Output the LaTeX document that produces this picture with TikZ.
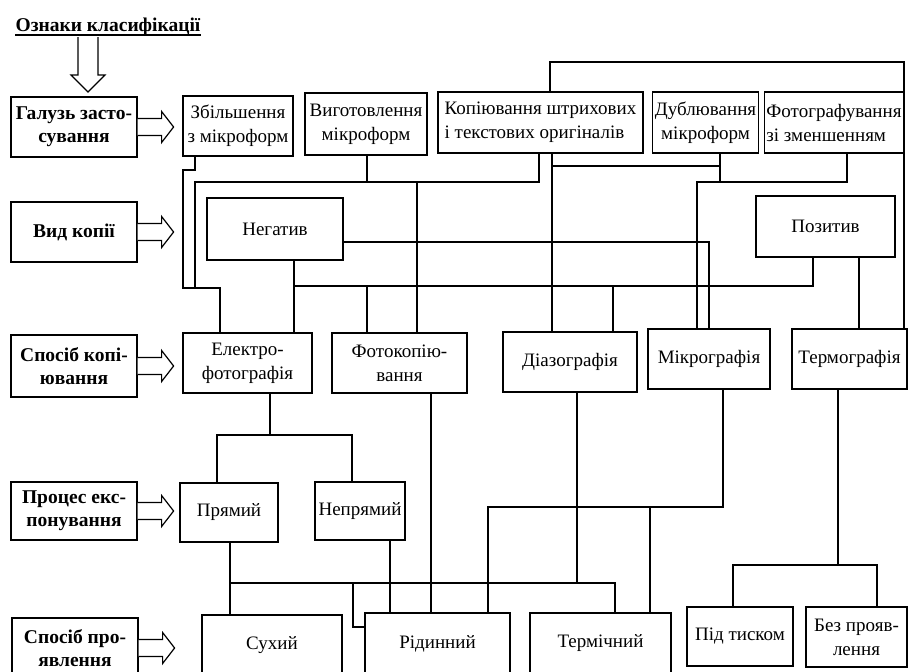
\documentclass[tikz,border=0pt]{standalone}
\usepackage{fontspec}
\setmainfont{Liberation Serif}

\begin{document}
\begin{tikzpicture}[x=1pt, y=-1pt, line width=1.2pt,
  box/.style={draw, fill=white, inner sep=2pt, align=center,
    font=\fontsize{19}{24}\selectfont},
  lbl/.style={box, minimum width=126, minimum height=60,
    font=\fontsize{19.5}{23}\selectfont\bfseries},
  hollow/.style={draw, fill=white, line join=miter}]
  \useasboundingbox (0,0) rectangle (908,672);

  % ознаки
  \node[anchor=base west, inner sep=0pt, font=\fontsize{19.5}{23}\selectfont\bfseries]
    (title) at (15,31) {Ознаки класифікації};
  \draw[line width=1.4pt] ([yshift=-4pt]title.base west) -- ([yshift=-4pt]title.base east);
  \draw[hollow] (78,37) -- (78,75) -- (71,75) -- (88,92) -- (105,75) -- (98,75) -- (98,37);

  \node[lbl] (gal) at (74,127) {Галузь засто-\\сування};
  \node[lbl] (vyd) at (74,232) {Вид копії};
  \node[lbl, minimum height=62] (spk) at (74,366) {Спосіб копі-\\ювання};
  \node[lbl, minimum height=58] (proc) at (74,511) {Процес екс-\\понування};
  \node[lbl] (spr) at (75,648) {Спосіб про-\\явлення};

  \foreach \l in {gal,vyd,spk,proc,spr}
    \draw[hollow] (\l.east) ++(0,-8.5) -- ++(24,0) -- ++(0,-7) -- ++(12,15.5)
      -- ++(-12,15.5) -- ++(0,-7) -- ++(-24,0);

  % галузь застосування
  \node[box, minimum width=110, minimum height=60] (zb) at (238,126) {Збільшення\\з мікроформ};
  \node[box, minimum width=122, minimum height=62] (vyg) at (366,124) {Виготовлення\\мікроформ};
  \node[box, minimum width=205, minimum height=61, align=left] (kop) at (540.5,122.5)
    {Копіювання штрихових\\і текстових оригіналів};
  \node[box, minimum width=105, minimum height=61] (dub) at (705.5,122.5) {Дублювання\\мікроформ};
  \node[box, minimum width=138, minimum height=61, align=left] (fot) at (834,122.5)
    {Фотографування\\зі зменшенням};

  % вид копії
  \node[box, minimum width=136, minimum height=62] (neg) at (275,229) {Негатив};
  \node[box, minimum width=139, minimum height=61] (poz) at (825.5,226.5) {Позитив};

  % спосіб копіювання
  \node[box, minimum width=129, minimum height=60] (el) at (247.5,363) {Електро-\\фотографія};
  \node[box, minimum width=135, minimum height=60] (fk) at (399.5,363) {Фотокопію-\\вання};
  \node[box, minimum width=134, minimum height=60] (dia) at (570,362) {Діазографія};
  \node[box, minimum width=122, minimum height=60] (mik) at (709,359) {Мікрографія};
  \node[box, minimum width=115, minimum height=60] (ter) at (849.5,359) {Термографія};

  % процес експонування
  \node[box, minimum width=98, minimum height=59] (pr) at (229,512.5) {Прямий};
  \node[box, minimum width=90, minimum height=58] (np) at (360,511) {Непрямий};

  % спосіб проявлення
  \node[box, minimum width=140, minimum height=61] (su) at (272,645.5) {Сухий};
  \node[box, minimum width=145, minimum height=62] (rid) at (437.5,644) {Рідинний};
  \node[box, minimum width=141, minimum height=60] (term) at (600.5,643) {Термічний};
  \node[box, minimum width=106, minimum height=59] (pid) at (740,636.5) {Під тиском};
  \node[box, minimum width=101, minimum height=60] (bez) at (856.5,637) {Без прояв-\\лення};

  % зв'язки: верхній ряд
  \draw (195,0 |- zb.south) |- (183,170) |- (220,288) -- (220,0 |- el.north);
  \draw (367,0 |- vyg.south) |- (417,182) -- (417,0 |- fk.north);
  \draw (539,0 |- kop.south) |- (195,182) |- (220,288) -- (220,0 |- el.north);
  \draw (552,0 |- kop.south) -- (552,0 |- dia.north);
  \draw (550,0 |- kop.north) |- (904,62) -- (904,0 |- ter.north);
  \draw (720,0 |- dub.south) |- (552,166) -- (552,0 |- dia.north);
  \draw (720,0 |- dub.south) |- (697,182) -- (697,0 |- mik.north);
  \draw (847,0 |- fot.south) |- (697,182) -- (697,0 |- mik.north);

  % негатив / позитив
  \draw (294,0 |- neg.south) -- (294,0 |- el.north);
  \draw (neg.east |- 0,242) -| (709,0 |- mik.north);
  \draw (813,0 |- poz.south) |- (294,286) -- (294,0 |- el.north);
  \draw (813,0 |- poz.south) |- (367,286) -- (367,0 |- fk.north);
  \draw (813,0 |- poz.south) |- (613,286) -- (613,0 |- dia.north);
  \draw (859,0 |- poz.south) -- (859,0 |- ter.north);

  % експонування
  \draw (270,0 |- el.south) |- (217,435) -- (217,0 |- pr.north);
  \draw (270,0 |- el.south) |- (352,435) -- (352,0 |- np.north);

  % проявлення
  \draw (230,0 |- pr.south) -- (230,0 |- su.north);
  \draw (230,0 |- pr.south) |- (615,583) -- (615,0 |- term.north);
  \draw (230,0 |- pr.south) |- (353,583) |- (rid.west |- 0,627);
  \draw (577,0 |- dia.south) -- (577,583);
  \draw (390,0 |- np.south) -- (390,0 |- rid.north);
  \draw (431,0 |- fk.south) -- (431,0 |- rid.north);
  \draw (723,0 |- mik.south) |- (488,507) -- (488,0 |- rid.north);
  \draw (723,0 |- mik.south) |- (650,507) -- (650,0 |- term.north);
  \draw (838,0 |- ter.south) |- (733,565) -- (733,0 |- pid.north);
  \draw (838,0 |- ter.south) |- (877,565) -- (877,0 |- bez.north);
\end{tikzpicture}
\end{document}
